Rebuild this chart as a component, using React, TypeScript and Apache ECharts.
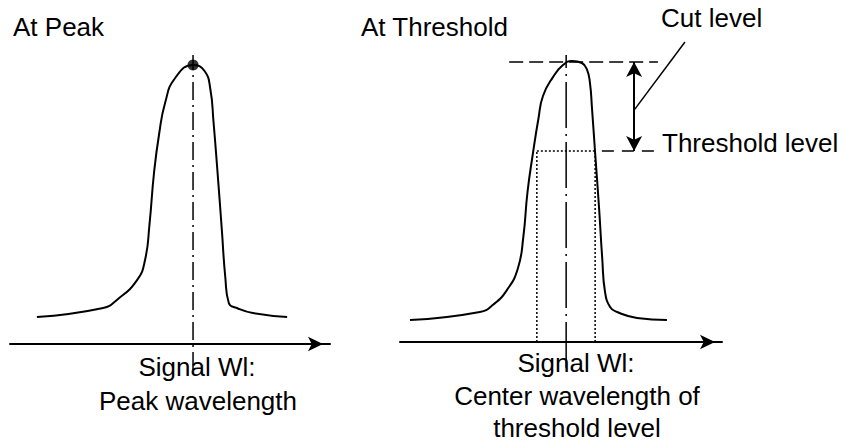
import React, { useEffect, useRef } from "react";
import * as echarts from "echarts";

// ---- Data (x: wavelength units 0-100 along each axis, y: level units, 0 = axis) ----
// Left panel: "At Peak"
const peakCurve: number[][] = [
  [8.4, 9.0], [29.1, 12.0], [33.4, 14.7], [39.7, 21.3], [42.2, 28.0],
  [43.6, 40.0], [45.0, 57.0], [46.6, 70.0], [48.5, 80.5], [51.5, 88.5],
  [57.2, 93.0], [60.8, 91.0], [62.6, 85.0], [63.6, 74.0], [64.8, 58.0],
  [66.2, 38.0], [67.3, 22.0], [68.4, 13.6], [70.9, 12.0], [75.9, 10.3],
  [86.6, 9.0],
];
const peakPoint: number[] = [57.2, 93.0];
const peakMarkerRange: number[] = [-8.7, 96.3];

// Right panel: "At Threshold"
const thresholdCurve: number[][] = [
  [3.1, 7.3], [24.8, 10.0], [29.0, 12.5], [33.2, 17.3], [36.6, 24.5],
  [38.3, 35.0], [39.6, 50.0], [41.3, 63.0], [43.0, 74.5], [44.4, 82.0],
  [47.5, 88.3], [50.6, 92.3], [53.4, 93.7], [56.5, 93.0], [58.1, 90.7],
  [59.0, 86.3], [59.6, 78.3], [60.6, 63.0], [61.8, 45.0], [62.8, 28.0],
  [63.7, 16.5], [65.3, 11.6], [67.4, 10.0], [73.6, 8.0], [82.9, 7.3],
];
const peakLevel = 93.3;
const thresholdLevel = 63.7;
const crossLeft = 42.5;
const crossRight = 60.6;
const centerWl = 51.6;
const centerMarkerRange: number[] = [-8.7, 95.7];
const peakLineRange: number[] = [33.9, 80.1];
const thresholdDashRange: number[] = [62.7, 79.8];
const cutArrowX = 72.7;
const leaderFrom: number[] = [72.7, 77.3];
const leaderTo: number[] = [88.5, 100];

// Texts
const titles = ["At Peak", "At Threshold"];
const leftCaption = ["Signal Wl:", "Peak wavelength"];
const rightCaption = ["Signal Wl:", "Center wavelength of", "threshold level"];
const cutLabel = "Cut level";
const thresholdLabel = "Threshold level";

const FONT = '26px "Liberation Sans", Arial, sans-serif';

export default function App() {
  const ref = useRef<HTMLDivElement>(null);
  useEffect(() => {
    if (!ref.current) return;
    const chart = echarts.init(ref.current, undefined, { renderer: "svg" });

    const xAxisBase = (gridIndex: number) => ({
      type: "value",
      gridIndex,
      min: 0,
      max: 100,
      axisLine: {
        show: true,
        onZero: true,
        symbol: ["none", "arrow"],
        symbolSize: [11, 15],
        symbolOffset: [0, -7],
        lineStyle: { color: "#000", width: 2 },
      },
      axisTick: { show: false },
      axisLabel: { show: false },
      splitLine: { show: false },
    });
    const yAxisBase = (gridIndex: number) => ({
      type: "value",
      gridIndex,
      min: -10,
      max: 100,
      show: false,
      splitLine: { show: false },
    });

    const seg = (idx: number, pts: number[][], type: any, width = 1.5) => ({
      type: "line",
      xAxisIndex: idx,
      yAxisIndex: idx,
      data: pts,
      showSymbol: false,
      symbol: "none",
      clip: false,
      silent: true,
      lineStyle: { color: "#000", width, type },
    });

    const curve = (idx: number, pts: number[][]) => ({
      type: "line",
      xAxisIndex: idx,
      yAxisIndex: idx,
      data: pts,
      smooth: 0.5,
      showSymbol: false,
      symbol: "none",
      clip: false,
      silent: true,
      lineStyle: { color: "#000", width: 2 },
    });

    const textEl = (text: string, x: number, y: number, align: string = "left") => ({
      type: "text",
      x,
      y,
      style: { text, font: FONT, fill: "#000", align, verticalAlign: "middle" },
    });

    chart.setOption({
      animation: false,
      backgroundColor: "#fff",
      grid: [
        { left: 10, top: 44, width: 320, height: 330 },
        { left: 400, top: 42, width: 322, height: 330 },
      ],
      xAxis: [xAxisBase(0), xAxisBase(1)],
      yAxis: [yAxisBase(0), yAxisBase(1)],
      series: [
        // Left panel
        curve(0, peakCurve),
        seg(0, [[peakPoint[0], peakMarkerRange[0]], [peakPoint[0], peakMarkerRange[1]]], [18, 5, 2, 5], 1.5),
        {
          type: "scatter",
          xAxisIndex: 0,
          yAxisIndex: 0,
          data: [peakPoint],
          symbol: "circle",
          symbolSize: 11,
          itemStyle: { color: "#000" },
          clip: false,
          silent: true,
        },
        // Right panel
        curve(1, thresholdCurve),
        seg(1, [[centerWl, centerMarkerRange[0]], [centerWl, centerMarkerRange[1]]], [46, 6, 2, 6], 1.5),
        seg(1, [[peakLineRange[0], peakLevel], [peakLineRange[1], peakLevel]], [14, 6], 1.5),
        seg(1, [[thresholdDashRange[0], thresholdLevel], [thresholdDashRange[1], thresholdLevel]], [12, 8], 1.5),
        seg(1, [[crossLeft, thresholdLevel], [crossRight, thresholdLevel]], [2, 2], 1.5),
        seg(1, [[crossLeft, 0], [crossLeft, thresholdLevel]], [2, 2], 1.5),
        seg(1, [[crossRight, 0], [crossRight, thresholdLevel]], [2, 2], 1.5),
        seg(1, [leaderFrom, leaderTo], "solid", 1.5),
        {
          type: "line",
          xAxisIndex: 1,
          yAxisIndex: 1,
          data: [],
          symbol: "none",
          markLine: {
            silent: true,
            symbol: ["arrow", "arrow"],
            symbolSize: [12, 15],
            label: { show: false },
            lineStyle: { color: "#000", width: 2, type: "solid" },
            data: [[{ coord: [cutArrowX, peakLevel] }, { coord: [cutArrowX, thresholdLevel] }]],
          },
        },
      ],
      graphic: [
        textEl(titles[0], 13, 27),
        textEl(titles[1], 361, 27),
        textEl(cutLabel, 661, 18),
        textEl(thresholdLabel, 662, 143),
        textEl(leftCaption[0], 197, 367, "center"),
        textEl(leftCaption[1], 198, 401, "center"),
        textEl(rightCaption[0], 576, 363, "center"),
        textEl(rightCaption[1], 577, 396, "center"),
        textEl(rightCaption[2], 577, 428, "center"),
      ],
    });
    return () => chart.dispose();
  }, []);
  return <div ref={ref} style={{ position: "fixed", left: 0, top: 0, width: 850, height: 443 }} />;
}
